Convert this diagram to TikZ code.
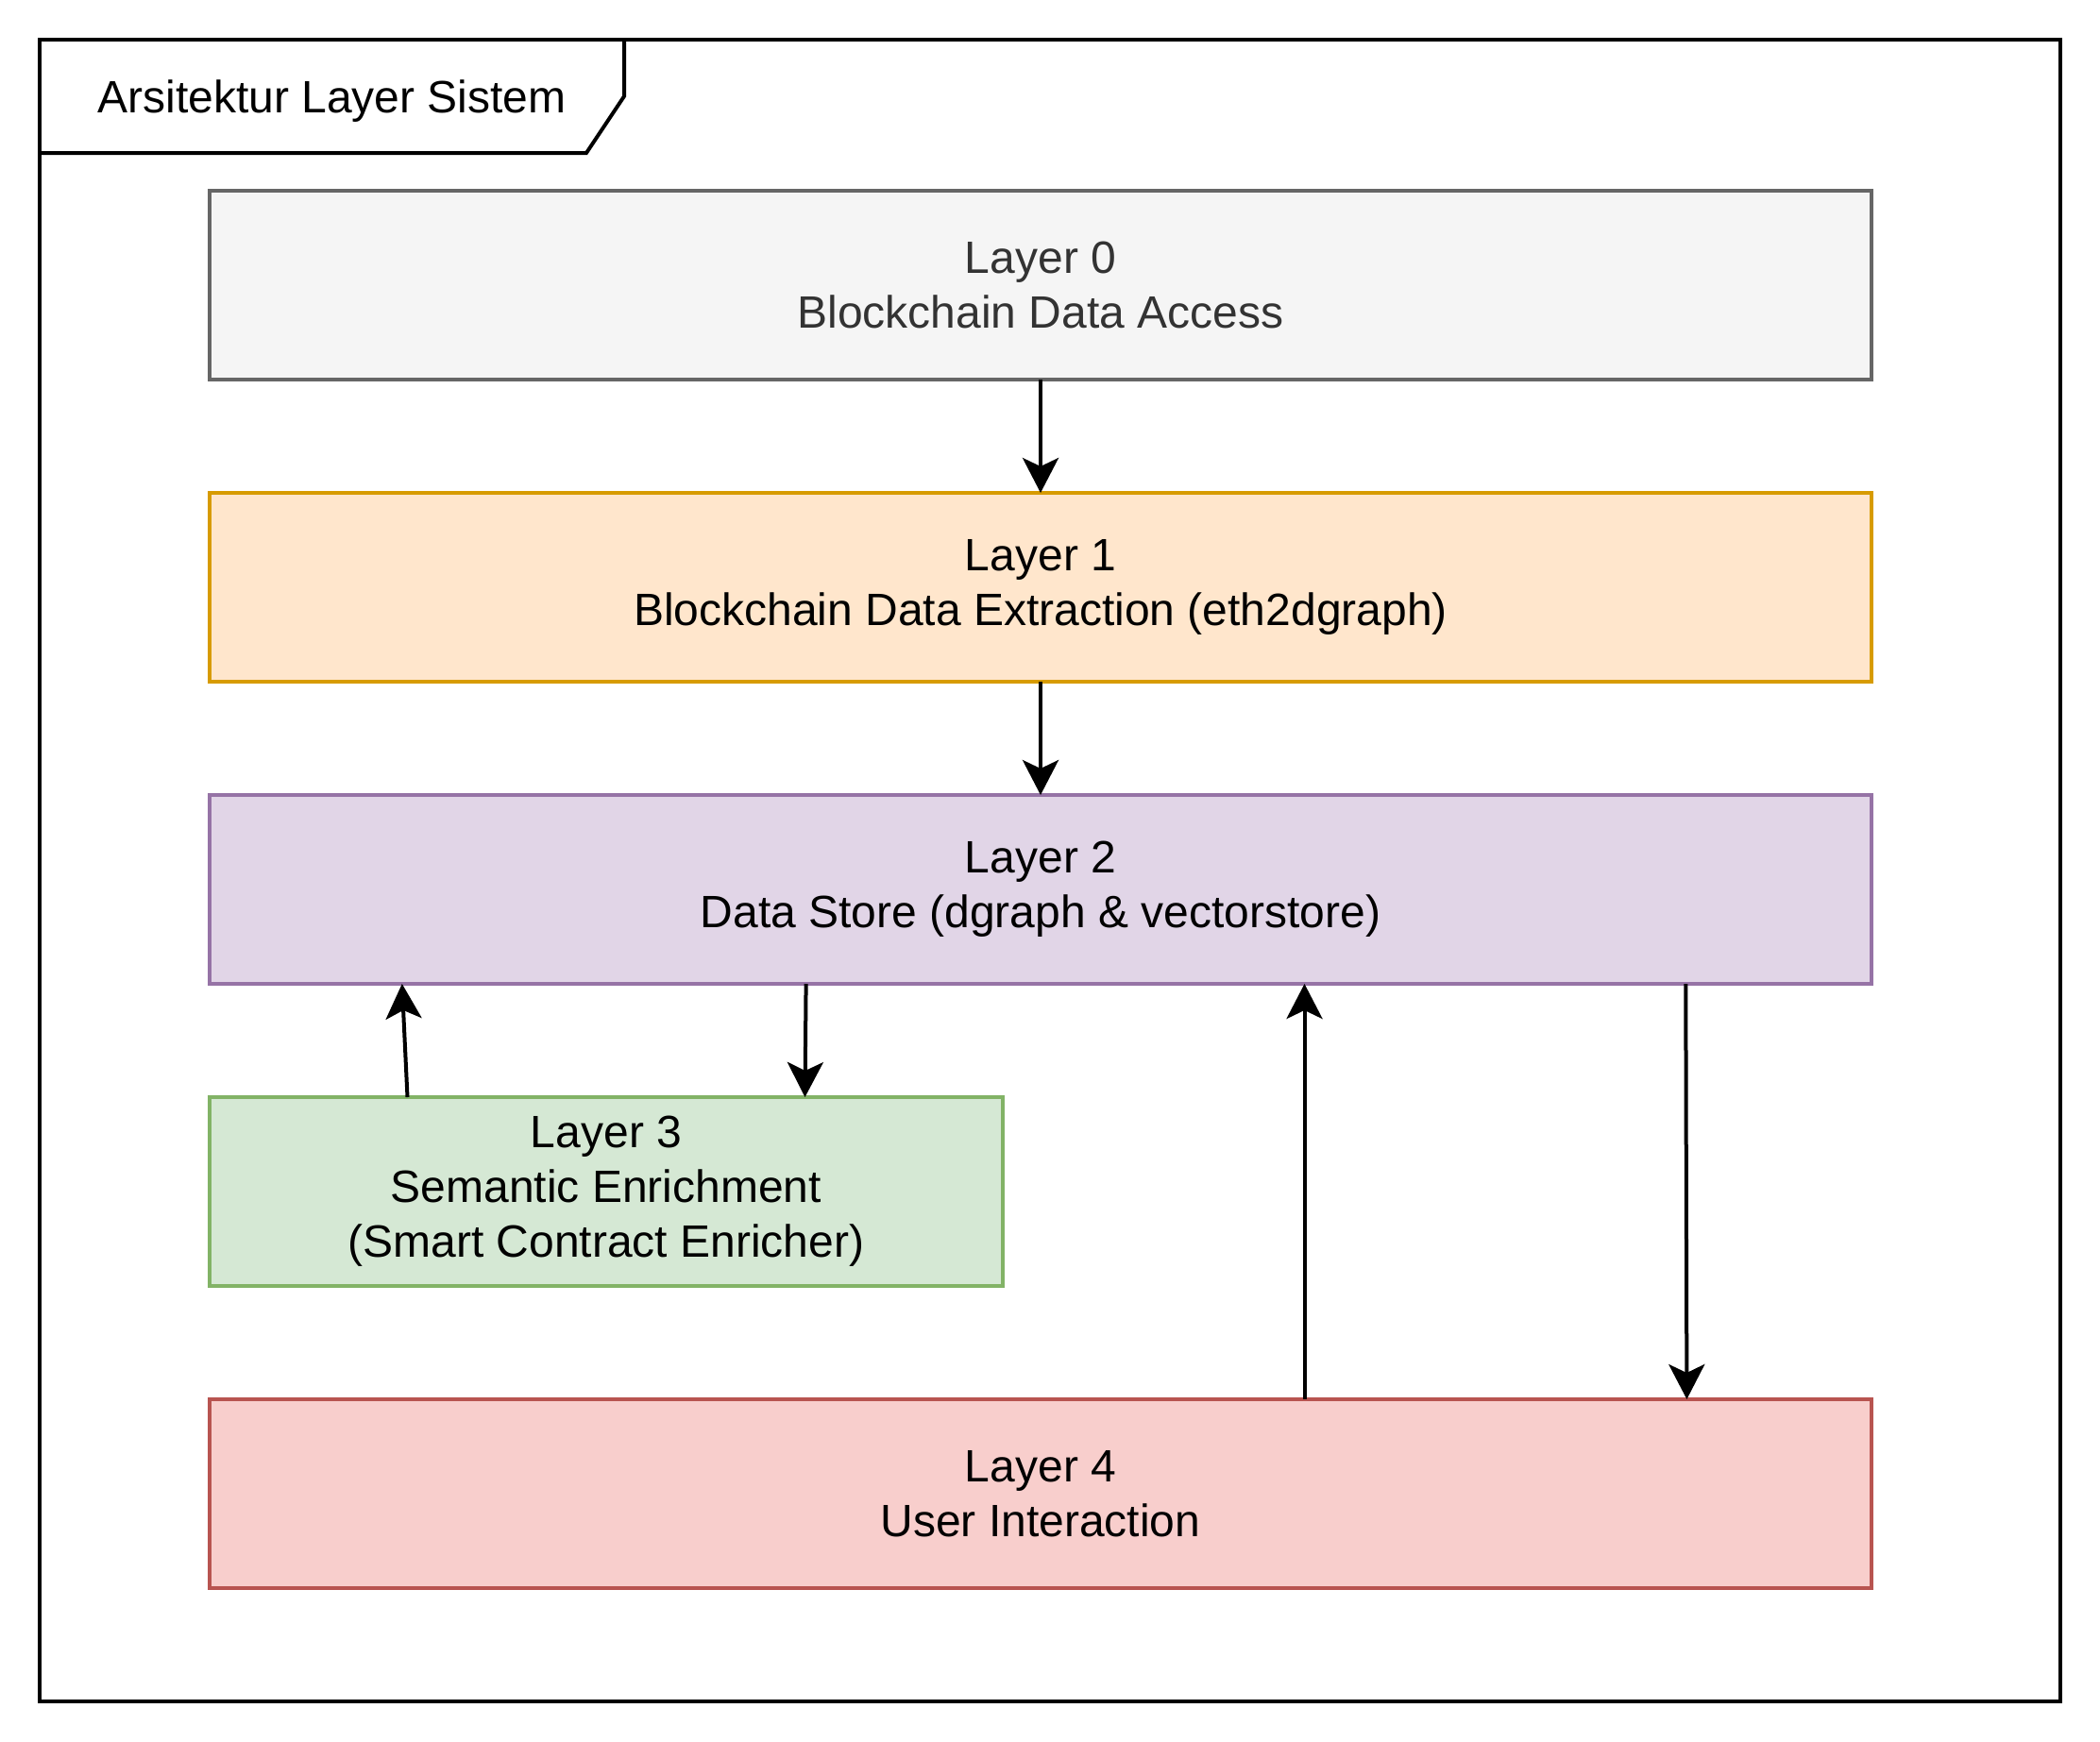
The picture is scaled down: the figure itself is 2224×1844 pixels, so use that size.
\documentclass[tikz,border=0pt]{standalone}
\usepackage{fontspec}
\setmainfont{Liberation Sans}
\usetikzlibrary{arrows.meta,calc}
\definecolor{l0fill}{HTML}{F5F5F5}
\definecolor{l0line}{HTML}{666666}
\definecolor{l0text}{HTML}{333333}
\definecolor{l1fill}{HTML}{FFE6CC}
\definecolor{l1line}{HTML}{D79B00}
\definecolor{l2fill}{HTML}{E1D5E7}
\definecolor{l2line}{HTML}{9673A6}
\definecolor{l3fill}{HTML}{D5E8D4}
\definecolor{l3line}{HTML}{82B366}
\definecolor{l4fill}{HTML}{F8CECC}
\definecolor{l4line}{HTML}{B85450}
\begin{document}
\begin{tikzpicture}[x=1pt,y=-1pt,
  layerbox/.style={draw, line width=4pt, minimum width=1760pt, minimum height=200pt,
    inner sep=0pt, outer sep=0pt, align=center, font=\fontsize{48}{58}\selectfont},
  framebox/.style={draw, line width=4pt, inner sep=0pt, outer sep=0pt},
  arr/.style={line width=4pt, black, -{Stealth[length=37pt,width=38pt,inset=9pt]}},
  titletext/.style={font=\fontsize{48}{58}\selectfont, inner sep=0pt}
]
\useasboundingbox (0,0) rectangle (2224,1844);
\fill[white] (0,0) rectangle (2224,1844);

% outer frame
\node[framebox, minimum width=2140pt, minimum height=1760pt] (frame) at (1112,922) {};
\draw[line width=4pt] (42,162) -- (621,162) -- (661,102) -- (661,42);
\node[titletext, anchor=base] (title) at (351.5,119) {Arsitektur Layer Sistem};

% layers
\node[layerbox, fill=l0fill, draw=l0line, text=l0text] (L0) at (1102,302) {Layer 0\\Blockchain Data Access};
\node[layerbox, fill=l1fill, draw=l1line] (L1) at (1102,622) {Layer 1\\Blockchain Data Extraction (eth2dgraph)};
\node[layerbox, fill=l2fill, draw=l2line] (L2) at (1102,942) {Layer 2\\Data Store (dgraph \& vectorstore)};
\node[layerbox, fill=l3fill, draw=l3line, minimum width=840pt] (L3) at (642,1262) {Layer 3\\Semantic Enrichment\\(Smart Contract Enricher)};
\node[layerbox, fill=l4fill, draw=l4line] (L4) at (1102,1582) {Layer 4\\User Interaction};

% connectors
\draw[arr] (L0.south) -- (L1.north);
\draw[arr] (L1.south) -- (L2.north);
\draw[arr] ([xshift=209.5pt]L3.north west) -- ([xshift=203.8pt]L2.south west);
\draw[arr] ([xshift=631.6pt]L2.south west) -- ([xshift=630.5pt]L3.north west);
\draw[arr] ([xshift=1159.5pt]L4.north west) -- ([xshift=1159.5pt]L2.south west);
\draw[arr] ([xshift=1563.3pt]L2.south west) -- ([xshift=1564.4pt]L4.north west);
\end{tikzpicture}
\end{document}
